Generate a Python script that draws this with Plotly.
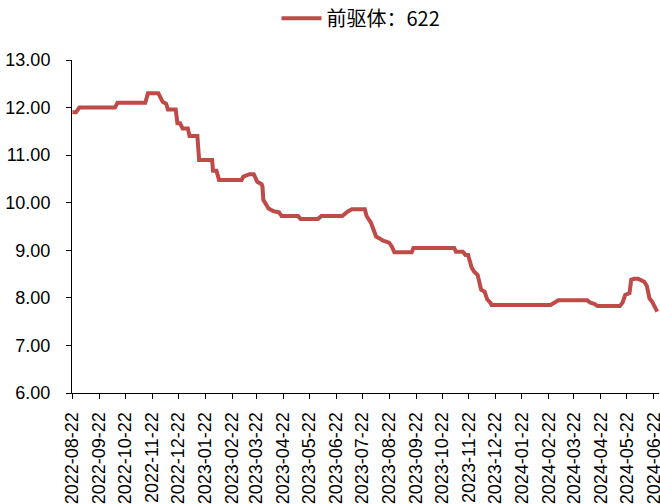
import plotly.graph_objects as go

series_name = "前驱体：622"

dates = [
    "2022-08-22", "2022-08-26", "2022-08-30", "2022-10-10", "2022-10-13",
    "2022-11-14", "2022-11-17", "2022-11-29", "2022-12-04", "2022-12-08",
    "2022-12-10", "2022-12-19", "2022-12-21", "2022-12-24", "2022-12-27",
    "2023-01-02", "2023-01-04", "2023-01-13", "2023-01-15", "2023-01-30",
    "2023-01-31", "2023-02-04", "2023-02-07", "2023-03-05", "2023-03-07",
    "2023-03-14", "2023-03-19", "2023-03-23", "2023-03-28", "2023-03-29",
    "2023-03-30", "2023-04-02", "2023-04-05", "2023-04-11", "2023-04-17",
    "2023-04-20", "2023-05-09", "2023-05-12", "2023-06-01", "2023-06-05",
    "2023-06-29", "2023-07-05", "2023-07-10", "2023-07-25", "2023-07-27",
    "2023-08-01", "2023-08-04", "2023-08-07", "2023-08-11", "2023-08-15",
    "2023-08-22", "2023-08-25", "2023-08-28", "2023-09-17", "2023-09-19",
    "2023-11-05", "2023-11-07", "2023-11-15", "2023-11-18", "2023-11-21",
    "2023-11-25", "2023-11-28", "2023-12-02", "2023-12-06", "2023-12-10",
    "2023-12-13", "2023-12-17", "2023-12-18", "2024-02-24", "2024-03-01",
    "2024-03-04", "2024-04-06", "2024-04-10", "2024-04-15", "2024-04-18",
    "2024-05-14", "2024-05-17", "2024-05-20", "2024-05-25", "2024-05-27",
    "2024-05-30", "2024-06-04", "2024-06-08", "2024-06-11", "2024-06-14",
    "2024-06-17", "2024-06-20", "2024-06-26",
]

values = [
    11.90, 11.90, 12.00, 12.00, 12.10,
    12.10, 12.30, 12.30, 12.12, 12.08,
    11.96, 11.96, 11.67, 11.67, 11.56,
    11.56, 11.40, 11.40, 10.90, 10.90,
    10.67, 10.67, 10.48, 10.48, 10.55,
    10.60, 10.60, 10.44, 10.39, 10.34,
    10.06, 9.95, 9.88, 9.82, 9.80,
    9.72, 9.72, 9.66, 9.66, 9.72,
    9.72, 9.81, 9.86, 9.86, 9.72,
    9.58, 9.46, 9.29, 9.25, 9.20,
    9.16, 9.08, 8.96, 8.96, 9.05,
    9.05, 8.97, 8.97, 8.90, 8.90,
    8.64, 8.55, 8.48, 8.17, 8.13,
    7.97, 7.89, 7.85, 7.85, 7.92,
    7.95, 7.95, 7.90, 7.87, 7.83,
    7.83, 7.90, 8.06, 8.10, 8.38,
    8.40, 8.40, 8.36, 8.34, 8.25,
    7.99, 7.92, 7.71,
]

x_ticks = [
    "2022-08-22", "2022-09-22", "2022-10-22", "2022-11-22", "2022-12-22",
    "2023-01-22", "2023-02-22", "2023-03-22", "2023-04-22", "2023-05-22",
    "2023-06-22", "2023-07-22", "2023-08-22", "2023-09-22", "2023-10-22",
    "2023-11-22", "2023-12-22", "2024-01-22", "2024-02-22", "2024-03-22",
    "2024-04-22", "2024-05-22", "2024-06-22",
]

y_ticks = [6, 7, 8, 9, 10, 11, 12, 13]

fig = go.Figure()
fig.add_trace(go.Scatter(
    x=dates, y=values, mode="lines", name=series_name,
    line=dict(color="#BE4B48", width=4),
))

axis_font = dict(family="Liberation Sans, Arial, sans-serif", size=18, color="#000000")

fig.update_layout(
    width=660, height=504,
    margin=dict(l=72, r=1, t=60, b=111, autoexpand=False),
    paper_bgcolor="white", plot_bgcolor="white",
    showlegend=True,
    legend=dict(
        orientation="h", xref="container", yref="container",
        x=0.547, xanchor="center", y=0.964, yanchor="middle",
        font=dict(family="Noto Sans CJK SC, sans-serif", size=20, color="#000000"),
        itemwidth=40,
    ),
    xaxis=dict(
        type="date",
        range=["2022-08-21 12:00", "2024-06-28"],
        tickvals=x_ticks, ticktext=x_ticks,
        tickangle=-90, tickfont=axis_font,
        ticklabelstandoff=6, ticklabeloverflow="allow",
        showline=True, linecolor="#000000", linewidth=1,
        ticks="outside", ticklen=5, tickcolor="#000000",
        showgrid=False, zeroline=False, automargin=False,
    ),
    yaxis=dict(
        range=[6, 13], tickvals=y_ticks, tickformat=".2f",
        tickfont=axis_font,
        ticklabelstandoff=12, ticklabeloverflow="allow",
        showline=True, linecolor="#000000", linewidth=1,
        ticks="outside", ticklen=5, tickcolor="#000000",
        showgrid=False, zeroline=False, automargin=False,
    ),
)

fig.write_html(
    "out.html",
    config={"displayModeBar": False},
    post_script="document.body.style.margin='0';document.body.style.overflow='hidden';",
)
